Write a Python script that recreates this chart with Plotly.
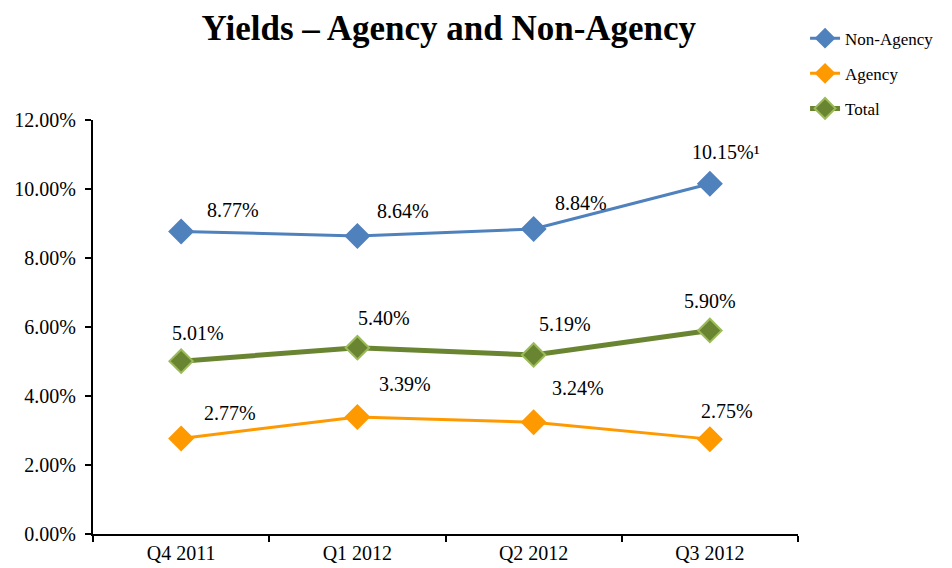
import plotly.graph_objects as go

quarters = ["Q4 2011", "Q1 2012", "Q2 2012", "Q3 2012"]
non_agency = [8.77, 8.64, 8.84, 10.15]
agency = [2.77, 3.39, 3.24, 2.75]
total = [5.01, 5.40, 5.19, 5.90]
non_agency_labels = ["8.77%", "8.64%", "8.84%", "10.15%\u00b9"]
agency_labels = ["2.77%", "3.39%", "3.24%", "2.75%"]
total_labels = ["5.01%", "5.40%", "5.19%", "5.90%"]

serif = "Liberation Serif, Times New Roman, serif"

fig = go.Figure()

fig.add_trace(go.Scatter(
    x=quarters, y=[v / 100 for v in non_agency], name="Non-Agency", mode="lines+markers",
    legendgroup="na",
    line=dict(color="#4F81BD", width=3),
    marker=dict(symbol="diamond", size=20, color="#4F81BD")))
fig.add_trace(go.Scatter(
    x=quarters, y=[v / 100 for v in agency], name="Agency", mode="lines+markers",
    legendgroup="ag",
    line=dict(color="#FF9900", width=3),
    marker=dict(symbol="diamond", size=20, color="#FF9900")))
fig.add_trace(go.Scatter(
    x=quarters, y=[v / 100 for v in total], name="Total", mode="lines+markers",
    legendgroup="tt",
    line=dict(color="#6A8532", width=5),
    marker=dict(symbol="diamond", size=18, color="#6A8532",
                line=dict(color="#9BBB59", width=2))))

# label offsets (pixels) relative to each point
na_off = [(52, 21), (46, 25), (47, 26), (16, 32)]
ag_off = [(49, 25), (48, 33), (44, 34), (17, 28)]
tt_off = [(17, 28), (27, 30), (31, 31), (0, 29)]

for vals, labels, offs in [(non_agency, non_agency_labels, na_off),
                           (agency, agency_labels, ag_off),
                           (total, total_labels, tt_off)]:
    for q, v, t, (dx, dy) in zip(quarters, vals, labels, offs):
        fig.add_annotation(x=q, y=v / 100, text=t, showarrow=False,
                           xshift=dx, yshift=dy,
                           font=dict(family=serif, size=20, color="black"))

# page body adds an 8px margin, so the figure is a bit smaller than the window
fig.update_layout(
    width=944, height=560,
    margin=dict(l=85, r=154, t=112, b=34, autoexpand=False),
    paper_bgcolor="white", plot_bgcolor="white",
    title=dict(text="<b>Yields \u2013 Agency and Non-Agency</b>",
               x=0.467, xanchor="center", y=0.964, yanchor="middle",
               font=dict(family=serif, size=35, color="black")),
    font=dict(family=serif, size=18, color="black"),
    legend=dict(x=1.01, xanchor="left", y=1.24, yanchor="top",
                font=dict(family=serif, size=17, color="black"),
                tracegroupgap=10, itemsizing="trace"),
    showlegend=True,
)

fig.update_xaxes(
    type="category", range=[-0.5, 3.5],
    showline=True, linecolor="black", linewidth=2,
    ticks="outside", tickson="boundaries", ticklen=6, tickcolor="black", tickwidth=2,
    showgrid=False, zeroline=False,
    tickfont=dict(family=serif, size=20, color="black"))
fig.update_yaxes(
    range=[0, 0.12], dtick=0.02, tickformat=".2%",
    showline=True, linecolor="black", linewidth=2,
    ticks="outside", ticklen=6, tickcolor="black", tickwidth=2,
    ticklabelstandoff=5,
    showgrid=False, zeroline=False,
    tickfont=dict(family=serif, size=20, color="black"))

fig.write_html("out.html")
